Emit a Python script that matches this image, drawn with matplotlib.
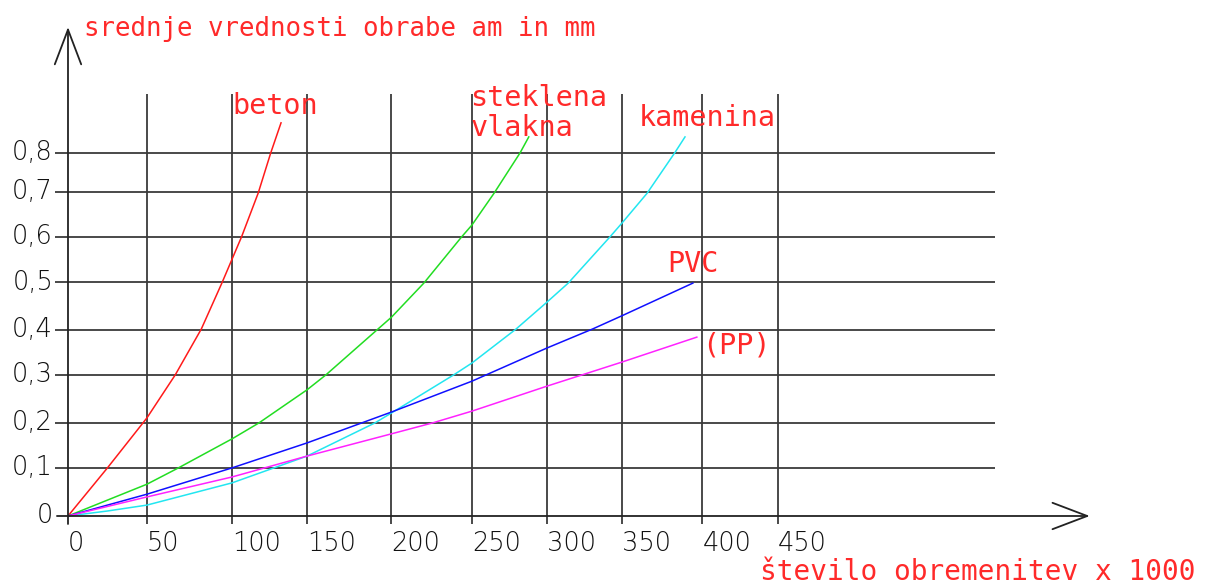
import matplotlib
matplotlib.use("Agg")
import matplotlib.pyplot as plt

# values (x in 1000 load cycles, y in mm)
beton_x = [0, 25, 50, 68, 84.5, 97.5, 110, 120.5, 128.5, 135]
beton_y = [0, 0.106, 0.216, 0.311, 0.412, 0.513, 0.615, 0.711, 0.800, 0.866]

steklo_x = [0, 50, 70, 104, 121, 151.5, 163.5, 196.5, 205, 225.5, 249.5, 256, 270, 286.5, 292]
steklo_y = [0, 0.070, 0.106, 0.170, 0.205, 0.278, 0.311, 0.412, 0.438, 0.513, 0.615, 0.641, 0.711, 0.800, 0.835]

kamenina_x = [0, 25, 50, 104, 151.5, 194.5, 205, 244.5, 256, 284, 303.5, 317, 343.5, 351, 367, 384.5, 391]
kamenina_y = [0, 0.011, 0.024, 0.073, 0.132, 0.205, 0.227, 0.311, 0.337, 0.412, 0.471, 0.513, 0.615, 0.645, 0.711, 0.800, 0.835]

pvc_x = [0, 50, 104, 151.5, 205, 256, 303.5, 332.5, 351, 396]
pvc_y = [0, 0.048, 0.106, 0.161, 0.229, 0.297, 0.370, 0.412, 0.441, 0.513]

pp_x = [0, 50, 104, 151.5, 205, 231, 256, 303.5, 351, 398.5]
pp_y = [0, 0.042, 0.086, 0.132, 0.181, 0.205, 0.231, 0.286, 0.339, 0.394]

# grid / tick positions as drawn
x_grid = [50, 104, 151.5, 205, 256, 303.5, 351, 402, 450]
x_labels = ["50", "100", "150", "200", "250", "300", "350", "400", "450"]
y_grid = [0.106, 0.205, 0.311, 0.410, 0.515, 0.615, 0.714, 0.800]
y_labels = ["0,1", "0,2", "0,3", "0,4", "0,5", "0,6", "0,7", "0,8"]

RED = "#ff2a2a"
GRID = "#3a3a3a"
mono = "DejaVu Sans Mono"

fig = plt.figure(figsize=(12.05, 5.87), dpi=100)
ax = fig.add_axes([0, 0, 1, 1])
ax.set_xlim(-43.09, 720.53)
ax.set_ylim(-0.1564, 1.1366)
ax.axis("off")

# grid
ax.hlines(y_grid, -8.2, 587.5, colors=GRID, lw=1.3)
ax.vlines(x_grid, -0.0176, 0.93, colors=GRID, lw=1.3)

# axes with open arrow heads
arrow = dict(arrowstyle="->,head_length=2.5,head_width=0.95", lw=1.3,
             color="#222222", shrinkA=0, shrinkB=0)
ax.annotate("", xy=(0, 1.077), xytext=(0, -0.0176), arrowprops=arrow)
ax.annotate("", xy=(647.5, 0), xytext=(-7, 0), arrowprops=arrow)

# curves
ax.plot(beton_x, beton_y, color="#ff1a1a", lw=1.1)
ax.plot(steklo_x, steklo_y, color="#22dd22", lw=1.1)
ax.plot(kamenina_x, kamenina_y, color="#22e6f0", lw=1.1)
ax.plot(pvc_x, pvc_y, color="#1010ff", lw=1.1)
ax.plot(pp_x, pp_y, color="#ff22ff", lw=1.1)

# tick labels
tick_font = dict(family="DejaVu Sans", fontsize=18.5, color="#111111", fontweight="light")
ax.text(-9.5, 0, "0", ha="right", va="center", **tick_font)
for yv, lab in zip(y_grid, y_labels):
    ax.text(-9.5, yv, lab, ha="right", va="center", **tick_font)
ax.text(0, -0.033, "0", ha="left", va="top", **tick_font)
for xv, lab in zip(x_grid, x_labels):
    ax.text(xv, -0.033, lab, ha="left", va="top", **tick_font)

# red annotations
ax.text(10, 1.057, "srednje vrednosti obrabe am in mm", family=mono,
        fontsize=18.5, color=RED, va="baseline")
ax.text(438.5, -0.141, "število obremenitev x 1000", family=mono,
        fontsize=20, color=RED, va="baseline")
ax.text(104, 0.885, "beton", family=mono, fontsize=20.5, color=RED, va="baseline")
ax.text(255, 0.903, "steklena", family=mono, fontsize=20.5, color=RED, va="baseline")
ax.text(255, 0.837, "vlakna", family=mono, fontsize=20.5, color=RED, va="baseline")
ax.text(362, 0.859, "kamenina", family=mono, fontsize=20.5, color=RED, va="baseline")
ax.text(380, 0.537, "PVC", family=mono, fontsize=20.5, color=RED, va="baseline")
ax.text(402, 0.359, "(PP)", family=mono, fontsize=20.5, color=RED, va="baseline")

fig.savefig("out.png", dpi=100)
